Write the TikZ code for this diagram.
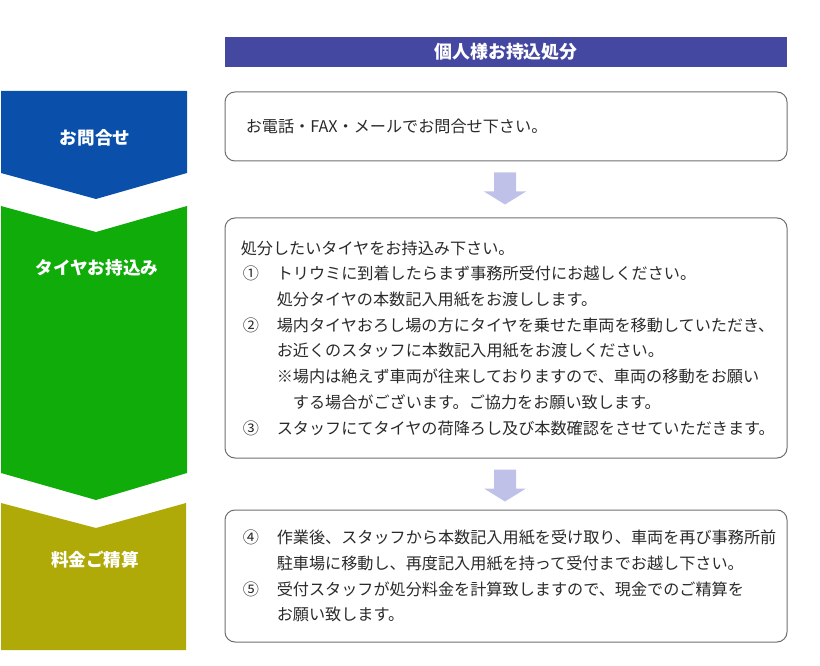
\documentclass[tikz,border=0pt]{standalone}
\usepackage{fontspec}
\setmainfont{Noto Sans CJK JP}
\usetikzlibrary{calc}

\definecolor{stepblue}{HTML}{0A50AA}
\definecolor{stepgreen}{HTML}{10AD0A}
\definecolor{stepolive}{HTML}{AFAA08}
\definecolor{headbar}{HTML}{4548A0}
\definecolor{flowlav}{HTML}{C0C1E8}
\definecolor{boxline}{HTML}{6E6E6E}
\definecolor{bodytext}{HTML}{2A2A2A}

\newcommand{\numitem}[2]{\makebox[27pt][l]{\hspace{1.5pt}#1}#2}

\tikzset{
  steplabel/.style={text=white,font=\fontsize{13.2pt}{15pt}\selectfont\bfseries},
  headlabel/.style={fill=headbar,text=white,minimum width=421.5pt,minimum height=22.5pt,inner sep=0pt,font=\fontsize{13.4pt}{15pt}\selectfont\bfseries},
  infobox/.style={draw=boxline,line width=0.75pt,rounded corners=7.5pt,minimum width=421.5pt,inner sep=0pt},
  infotext/.style={anchor=west,align=left,text=bodytext,inner sep=0pt,font=\fontsize{12.1pt}{19.3pt}\selectfont},
  flowarrow/.style={fill=flowlav}
}

\begin{document}
\begin{tikzpicture}[x=0.75pt,y=-0.75pt]
			\useasboundingbox (0,0) rectangle (820,666);
			% step chevrons
			\fill[stepblue] (1,91) -- (187,91) -- (187,173) -- (96,199) -- (1,173) -- cycle;
			\fill[stepgreen] (1,206) -- (96,232) -- (187,206) -- (187,473) -- (96,500) -- (1,473) -- cycle;
			\fill[stepolive] (1,503) -- (96,528) -- (186,503) -- (186,650) -- (1,650) -- cycle;
			\node[steplabel] (Inquiry) at (95,138) {お問合せ};
			\node[steplabel] (BringIn) at (97,268) {タイヤお持込み};
			\node[steplabel] (Payment) at (95,560) {料金ご精算};
			
			% header and boxes
			\node[headlabel] (Header) at (506,52) {個人様お持込処分};
			\node[infobox,minimum height=51.75pt] (InquiryBox) at (506,126.5) {};
			\node[infobox,minimum height=180pt] (BringInBox) at (506,338) {};
			\node[infobox,minimum height=99pt] (PaymentBox) at (506,576) {};
			
			\node[infotext] (InquiryText) at ([xshift=15.75pt]InquiryBox.west) {お電話・FAX・メールでお問合せ下さい。};
			\node[infotext] (BringInText) at ([xshift=12pt]BringInBox.west) {処分したいタイヤをお持込み下さい。\\
				\numitem{①}{トリウミに到着したらまず事務所受付にお越しください。}\\
				\numitem{}{処分タイヤの本数記入用紙をお渡しします。}\\
				\numitem{②}{場内タイヤおろし場の方にタイヤを乗せた車両を移動していただき、}\\
				\numitem{}{お近くのスタッフに本数記入用紙をお渡しください。}\\
				\numitem{}{※場内は絶えず車両が往来しておりますので、車両の移動をお願い}\\
				\numitem{}{\hspace{1em}する場合がございます。ご協力をお願い致します。}\\
				\numitem{③}{スタッフにてタイヤの荷降ろし及び本数確認をさせていただきます。}};
			\node[infotext] (PaymentText) at ([xshift=12pt]PaymentBox.west) {\numitem{④}{作業後、スタッフから本数記入用紙を受け取り、車両を再び事務所前}\\
				\numitem{}{駐車場に移動し、再度記入用紙を持って受付までお越し下さい。}\\
				\numitem{⑤}{受付スタッフが処分料金を計算致しますので、現金でのご精算を}\\
				\numitem{}{お願い致します。}};
			
			% flow arrows between boxes
			\foreach \src in {InquiryBox,BringInBox}
				\fill[flowarrow] ($(\src.south)+(-12,11)$) -- ++(22,0) -- ++(0,19) -- ++(10,0) -- ++(-21,13) -- ++(-21,-13) -- ++(10,0) -- cycle;
\end{tikzpicture}
\end{document}
